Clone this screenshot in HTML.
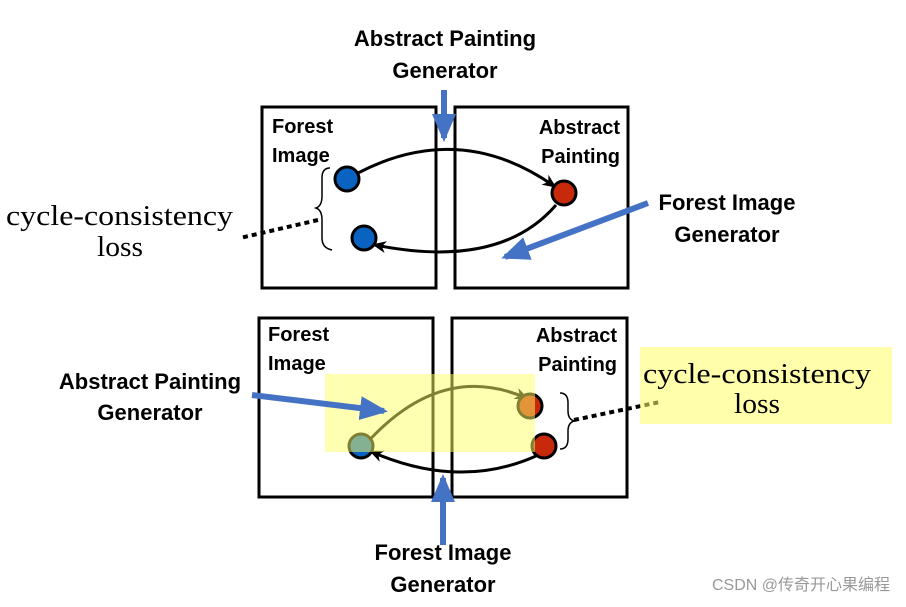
<!DOCTYPE html>
<html><head><meta charset="utf-8"><style>
body{margin:0;background:#fff;width:906px;height:602px;overflow:hidden}
</style></head><body>
<svg width="906" height="602" viewBox="0 0 906 602" xmlns="http://www.w3.org/2000/svg" font-family="Liberation Sans, sans-serif">
<defs>
<marker id="ah" markerWidth="14" markerHeight="14" refX="11" refY="7" orient="auto" markerUnits="userSpaceOnUse" viewBox="0 0 14 14"><path d="M0,1 L14,7 L0,13 L4,7 Z" fill="#000"/></marker>
<marker id="bh" markerWidth="30" markerHeight="30" refX="24" refY="15" orient="auto" markerUnits="userSpaceOnUse" viewBox="0 0 30 30"><path d="M0,3 L28,15 L0,27 Z" fill="#4472C4"/></marker>
</defs>
<g fill="none" stroke="#000" stroke-width="3">
<rect x="262" y="107" width="174" height="181"/>
<rect x="455" y="107" width="173" height="181"/>
<rect x="259" y="318" width="174" height="179"/>
<rect x="452" y="318" width="175" height="179"/>
</g>
<g font-weight="bold" font-size="20" fill="#000">
<text x="272" y="133">Forest</text><text x="272" y="162">Image</text>
<text x="620" y="134" text-anchor="end">Abstract</text><text x="620" y="163" text-anchor="end">Painting</text>
<text x="268" y="341">Forest</text><text x="268" y="370">Image</text>
<text x="617" y="342" text-anchor="end">Abstract</text><text x="617" y="371" text-anchor="end">Painting</text>
</g>
<g fill="none" stroke="#000" stroke-width="3">
<path d="M358,173 Q460,120 554,186" marker-end="url(#ah)"/>
<path d="M556,205 Q500,270 375,245" marker-end="url(#ah)"/>
<path d="M364,446 Q440,360 526,398" marker-end="url(#ah)"/>
<path d="M536,456 Q460,490 372,452" marker-end="url(#ah)"/>
</g>
<path d="M330,168 q-8,0 -8,10 v18 q0,10 -6,12 q6,2 6,12 v18 q0,10 10,12" fill="none" stroke="#000" stroke-width="1.5"/>
<path d="M560,393 q8,0 8,10 v8 q0,8 6,10 q-6,2 -6,10 v8 q0,10 -8,10" fill="none" stroke="#000" stroke-width="1.5"/>
<line x1="318" y1="220" x2="240" y2="238" stroke="#000" stroke-width="4" stroke-dasharray="5,4"/>
<line x1="574" y1="420" x2="660" y2="402" stroke="#000" stroke-width="4" stroke-dasharray="5,4"/>
<g stroke="#000" stroke-width="3">
<circle cx="347" cy="179" r="12" fill="#0a63c0"/>
<circle cx="364" cy="238" r="12" fill="#0a63c0"/>
<circle cx="564" cy="193" r="12" fill="#c8290a"/>
<circle cx="361" cy="446" r="12" fill="#0a63c0"/>
<circle cx="530" cy="406" r="12" fill="#c8290a"/>
<circle cx="544" cy="446" r="12" fill="#c8290a"/>
</g>
<rect x="325" y="374" width="210" height="78" fill="#ffff66" opacity="0.5"/>
<rect x="640" y="347" width="252" height="77" fill="#ffff66" opacity="0.55"/>
<g font-family="Liberation Serif, serif" font-size="28" fill="#000">
<text x="6" y="225" textLength="227" lengthAdjust="spacingAndGlyphs">cycle-consistency</text>
<text x="97" y="256" textLength="46" lengthAdjust="spacingAndGlyphs">loss</text>
<text x="643" y="383" textLength="228" lengthAdjust="spacingAndGlyphs">cycle-consistency</text>
<text x="734" y="413" textLength="46" lengthAdjust="spacingAndGlyphs">loss</text>
</g>
<g stroke="#4472C4" stroke-width="6" fill="none">
<line x1="444" y1="90" x2="444" y2="138" marker-end="url(#bh)"/>
<line x1="648" y1="203" x2="505" y2="257" marker-end="url(#bh)"/>
<line x1="252" y1="395" x2="384" y2="411" marker-end="url(#bh)"/>
<line x1="443" y1="545" x2="443" y2="478" marker-end="url(#bh)"/>
</g>
<g font-weight="bold" font-size="22" fill="#000" text-anchor="middle">
<text x="445" y="46">Abstract Painting</text><text x="445" y="78">Generator</text>
<text x="727" y="210">Forest Image</text><text x="727" y="242">Generator</text>
<text x="150" y="389">Abstract Painting</text><text x="150" y="420">Generator</text>
<text x="443" y="560">Forest Image</text><text x="443" y="592">Generator</text>
</g>
<text x="890" y="590" text-anchor="end" font-size="16" fill="#999" font-family="Liberation Sans, Noto Sans CJK SC, sans-serif">CSDN @传奇开心果编程</text>
</svg>
</body></html>
